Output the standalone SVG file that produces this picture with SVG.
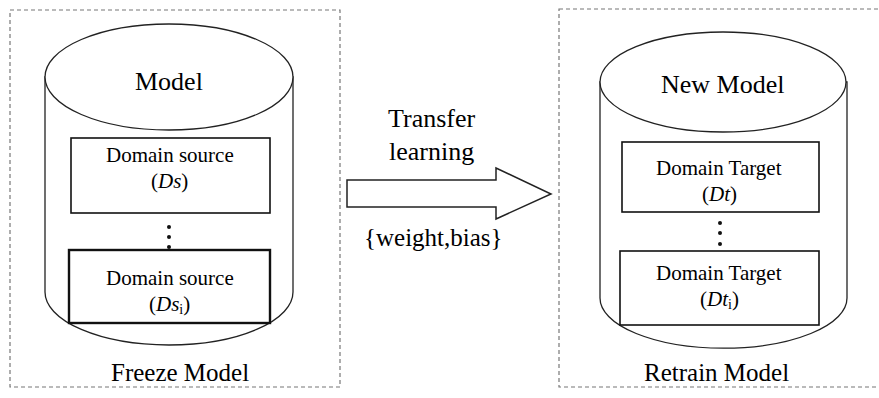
<svg xmlns="http://www.w3.org/2000/svg" width="879" height="398" viewBox="0 0 879 398">
<rect width="879" height="398" fill="#fff"/>
<g id="freeze-frame">
<rect x="10" y="10" width="330" height="377" fill="none" stroke="#777" stroke-width="1.2" stroke-dasharray="4 3"/>
<text font-family="Liberation Serif" font-size="25" x="111" y="381">Freeze Model</text>
</g>
<g id="retrain-frame">
<rect x="559" y="9" width="330" height="378" fill="none" stroke="#777" stroke-width="1.2" stroke-dasharray="4 3"/>
<text font-family="Liberation Serif" font-size="25" x="644" y="381">Retrain Model</text>
</g>
<g id="model">
<path d="M45,77 L45,292 A124,53 0 0 0 293,292 L293,77 Z" fill="#fff" stroke="#222" stroke-width="1.3"/>
<ellipse cx="169" cy="77" rx="124" ry="53" fill="#fff" stroke="#222" stroke-width="1.3"/>
<text font-family="Liberation Serif" font-size="26" x="135" y="90">Model</text>
</g>
<g id="ds">
<rect x="71" y="138" width="199" height="75" fill="#fff" stroke="#111" stroke-width="1.6"/>
<text font-family="Liberation Serif" font-size="21" x="106" y="162">Domain source</text>
<text font-family="Liberation Serif" font-size="21" x="151" y="188">(<tspan font-style="italic">Ds</tspan>)</text>
</g>
<g id="ds-dots" fill="#111">
<circle cx="169" cy="227" r="2"/>
<circle cx="169" cy="237" r="2"/>
<circle cx="169" cy="247" r="2"/>
</g>
<g id="dsi">
<rect x="69" y="250" width="201" height="73" fill="#fff" stroke="#111" stroke-width="2.4"/>
<text font-family="Liberation Serif" font-size="21" x="106" y="285">Domain source</text>
<text font-family="Liberation Serif" font-size="21" x="149" y="311">(<tspan font-style="italic">Ds</tspan><tspan font-size="14" dy="3">i</tspan><tspan dy="-3">)</tspan></text>
</g>
<g id="new-model">
<path d="M600,82 L600,298 A123,50 0 0 0 847,298 L847,82 Z" fill="#fff" stroke="#222" stroke-width="1.3"/>
<ellipse cx="723" cy="82" rx="123" ry="50" fill="#fff" stroke="#222" stroke-width="1.3"/>
<text font-family="Liberation Serif" font-size="26" x="661" y="93">New Model</text>
</g>
<g id="dt">
<rect x="622" y="142" width="197" height="70" fill="#fff" stroke="#111" stroke-width="1.6"/>
<text font-family="Liberation Serif" font-size="21" x="656" y="175">Domain Target</text>
<text font-family="Liberation Serif" font-size="21" x="702" y="201">(<tspan font-style="italic">Dt</tspan>)</text>
</g>
<g id="dt-dots" fill="#111">
<circle cx="720" cy="223" r="2"/>
<circle cx="720" cy="233" r="2"/>
<circle cx="720" cy="244" r="2"/>
</g>
<g id="dti">
<rect x="620" y="251" width="199" height="74" fill="#fff" stroke="#111" stroke-width="1.6"/>
<text font-family="Liberation Serif" font-size="21" x="656" y="280">Domain Target</text>
<text font-family="Liberation Serif" font-size="21" x="700" y="306">(<tspan font-style="italic">Dt</tspan><tspan font-size="14" dy="3">i</tspan><tspan dy="-3">)</tspan></text>
</g>
<g id="connectors">
<path d="M347,180 L496,180 L496,168 L551,194 L496,219 L496,207 L347,207 Z" fill="#fff" stroke="#222" stroke-width="1.5"/>
<text font-family="Liberation Serif" font-size="26" x="388" y="127">Transfer</text>
<text font-family="Liberation Serif" font-size="26" x="389" y="160">learning</text>
<text font-family="Liberation Serif" font-size="25" x="364" y="246">{weight,bias}</text>
</g>
</svg>
